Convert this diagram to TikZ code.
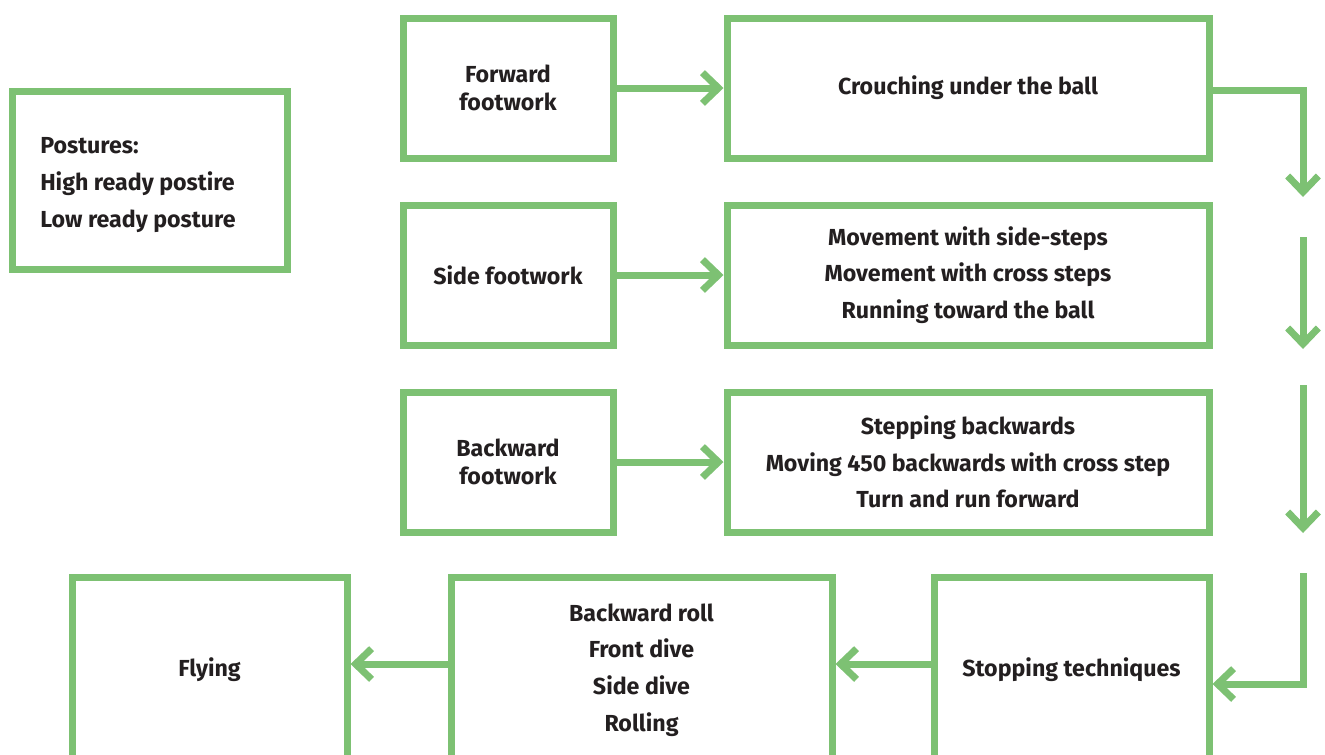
\documentclass[tikz,border=0pt]{standalone}
\usepackage{fontspec}
\setmainfont{Fira Sans}
\usetikzlibrary{arrows.meta}
\definecolor{boxgreen}{RGB}{125,193,115}
\definecolor{ink}{RGB}{35,31,32}
\begin{document}
\begin{tikzpicture}[x=0.75pt,y=-0.75pt,
  box/.style={draw=boxgreen, line width=5.25pt, fill=white, inner sep=0pt,
    align=center, text=ink, font=\bfseries\fontsize{17.4}{27.5}\selectfont},
  tight/.style={font=\bfseries\fontsize{17.4}{21.5}\selectfont},
  flow/.style={draw=boxgreen, line width=5.25pt, line join=miter,
    -{Straight Barb[length=12pt,width=23pt]}},
  link/.style={draw=boxgreen, line width=5.25pt, line join=miter}]
\useasboundingbox (0,0) rectangle (1325,754);
\clip (0,0) rectangle (1325,754);

% left column and posture box
\node[box, minimum width=206.25pt, minimum height=133.5pt] (post) at (149.5,180) {};
\node[anchor=west, align=left, text=ink, inner sep=0pt,
  font=\bfseries\fontsize{17.4}{27.5}\selectfont] (posttext) at (40,185)
  {Postures:\\High ready postire\\Low ready posture};

\node[box, tight, minimum width=157.5pt, minimum height=105pt] (fwd) at (508,88) {Forward\\footwork};
\node[box, minimum width=361.5pt, minimum height=105pt] (crouch) at (968,88) {Crouching under the ball};

\node[box, minimum width=157.5pt, minimum height=105pt] (side) at (508,275) {Side footwork};
\node[box, minimum width=361.5pt, minimum height=105pt] (move) at (968,275)
  {Movement with side-steps\\Movement with cross steps\\Running toward the ball};

\node[box, tight, minimum width=157.5pt, minimum height=105pt] (back) at (508,462) {Backward\\footwork};
\node[box, minimum width=361.5pt, minimum height=105pt] (stepb) at (968,462)
  {Stepping backwards\\Moving 450 backwards with cross step\\Turn and run forward};

% bottom row, running past the lower edge
\node[box, minimum width=206.25pt, minimum height=139.5pt] (stop) at (1071.5,670) {Stopping techniques};
\node[box, minimum width=285.75pt, minimum height=139.5pt] (rolls) at (641.5,670)
  {Backward roll\\Front dive\\Side dive\\Rolling};
\node[box, minimum width=206.25pt, minimum height=139.5pt] (fly) at (209.5,670) {Flying};

% horizontal arrows
\draw[flow] (fwd.east) -- (crouch.west);
\draw[flow] (side.east) -- (move.west);
\draw[flow] (back.east) -- (stepb.west);

% right-hand descending connector
\coordinate (r1) at (1303,90);
\coordinate (r2) at (1303,197);
\coordinate (r3) at (1303,237);
\coordinate (r4) at (1303,349);
\coordinate (r5) at (1303,385);
\coordinate (r6) at (1303,533);
\coordinate (r7) at (1303,573);
\coordinate (r8) at (1303,684);
\coordinate (row) at (0,664);

\draw[flow] (crouch.east |- r1) -- (r1) -- (r2);
\draw[flow] (r3) -- (r4);
\draw[flow] (r5) -- (r6);
\draw[flow] (r7) -- (r8) -- (stop.east |- r8);

% bottom arrows
\draw[flow] (stop.west |- row) -- (rolls.east |- row);
\draw[flow] (rolls.west |- row) -- (fly.east |- row);
\end{tikzpicture}
\end{document}
